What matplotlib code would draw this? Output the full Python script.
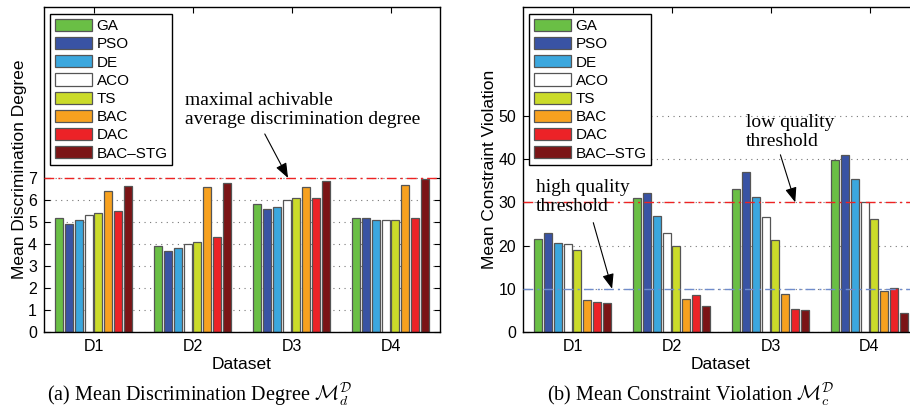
import numpy as np
import matplotlib
matplotlib.use("Agg")
import matplotlib.pyplot as plt

# data
datasets = ["D1", "D2", "D3", "D4"]
methods = ["GA", "PSO", "DE", "ACO", "TS", "BAC", "DAC", "BAC\u2013STG"]
colors = ["#6abf45", "#3953a4", "#3ba7de", "#ffffff", "#cbdb2a", "#f7a11f", "#ec2227", "#7b1416"]

# mean discrimination degree, rows = methods, cols = datasets
disc = [
    [5.2, 3.9, 5.8, 5.2],
    [4.9, 3.7, 5.6, 5.2],
    [5.1, 3.8, 5.7, 5.1],
    [5.3, 4.0, 6.0, 5.1],
    [5.4, 4.1, 6.1, 5.1],
    [6.4, 6.6, 6.6, 6.7],
    [5.5, 4.3, 6.1, 5.2],
    [6.65, 6.75, 6.85, 6.95],
]
# mean constraint violation
viol = [
    [21.6, 30.9, 33.2, 39.7],
    [22.9, 32.2, 37.0, 40.9],
    [20.7, 26.8, 31.3, 35.4],
    [20.3, 23.0, 26.7, 30.0],
    [18.9, 19.9, 21.3, 26.2],
    [7.3, 7.6, 8.7, 9.5],
    [6.9, 8.5, 5.3, 10.2],
    [6.7, 6.0, 5.2, 4.4],
]

sans = ["Liberation Sans", "DejaVu Sans"]
serif = ["Liberation Serif", "DejaVu Serif"]
plt.rcParams["font.family"] = sans
plt.rcParams["mathtext.fontset"] = "cm"

fig = plt.figure(figsize=(9.1, 4.15), dpi=100)
ax1 = fig.add_axes([44 / 910, 83 / 415, 396 / 910, 325 / 415])
ax2 = fig.add_axes([523 / 910, 83 / 415, 396 / 910, 325 / 415])


def draw_bars(ax, vals, ylim, yticks, ylabel):
    x = np.arange(1, len(datasets) + 1)
    n = len(methods)
    for i in range(n):
        off = (i - (n - 1) / 2) * 0.1
        ax.bar(x + off, vals[i], width=0.08, color=colors[i], edgecolor="#555555",
               linewidth=0.9, label=methods[i], zorder=2)
    ax.set_xlim(0.5, 4.5)
    ax.set_ylim(*ylim)
    ax.set_xticks(x)
    ax.set_xticklabels(datasets)
    ax.set_yticks(yticks)
    ax.tick_params(direction="in", labelsize=11.5, top=True, right=True, length=4, pad=5)
    ax.yaxis.grid(True, linestyle=(0, (1, 4)), color="#777777", linewidth=0.8, zorder=0)
    ax.set_axisbelow(True)
    ax.set_xlabel("Dataset", fontsize=12.5, labelpad=2)
    ax.set_ylabel(ylabel, fontsize=12.5, labelpad=1)
    for s in ax.spines.values():
        s.set_linewidth(1.0)
    leg = ax.legend(loc="upper left", bbox_to_anchor=(0.015, 0.978), borderaxespad=0,
                    fontsize=11, fancybox=False, edgecolor="black", framealpha=1,
                    handlelength=2.45, handleheight=0.85, labelspacing=0.25,
                    handletextpad=0.3, borderpad=0.3)
    leg.get_frame().set_linewidth(1.0)
    leg.set_zorder(5)


draw_bars(ax1, disc, (0, 14.77), range(0, 8), "Mean Discrimination Degree")
draw_bars(ax2, viol, (0, 75.2), range(0, 60, 10), "Mean Constraint Violation")

# threshold lines
ax1.axhline(7, color="#ee2222", linestyle=(0, (7, 3, 1.5, 3)), linewidth=1.0, zorder=3)
ax2.axhline(30, color="#ee2222", linestyle=(0, (7, 3, 1.5, 3)), linewidth=1.0, zorder=3)
ax2.axhline(10, color="#6f8ccc", linestyle=(0, (7, 3, 1.5, 3)), linewidth=1.0, zorder=3)

arrow = dict(arrowstyle="-|>,head_length=0.9,head_width=0.35", color="black", lw=0.8,
             shrinkA=0, shrinkB=0)
ax1.text(1.92, 10.9, "maximal achivable\naverage discrimination degree", fontsize=14,
         family=serif, va="top", ha="left", linespacing=1.15)
ax1.annotate("", xy=(2.965, 7.0), xytext=(2.73, 9.0), arrowprops=arrow)

ax2.text(2.75, 50.4, "low quality\nthreshold", fontsize=14, family=serif,
         va="top", ha="left", linespacing=1.15)
ax2.annotate("", xy=(3.25, 30.0), xytext=(3.1, 41.0), arrowprops=arrow)

ax2.text(0.63, 35.4, "high quality\nthreshold", fontsize=14, family=serif,
         va="top", ha="left", linespacing=1.15)
ax2.annotate("", xy=(1.40, 10.0), xytext=(1.21, 25.3), arrowprops=arrow)

# sub-captions
fig.text(199 / 910, 0.035, r"(a) Mean Discrimination Degree $\mathcal{M}_d^{\mathcal{D}}$",
         fontsize=14.5, family=serif, ha="center", va="baseline")
fig.text(691 / 910, 0.035, r"(b) Mean Constraint Violation $\mathcal{M}_c^{\mathcal{D}}$",
         fontsize=14.5, family=serif, ha="center", va="baseline")

fig.savefig("out.png", dpi=100)
